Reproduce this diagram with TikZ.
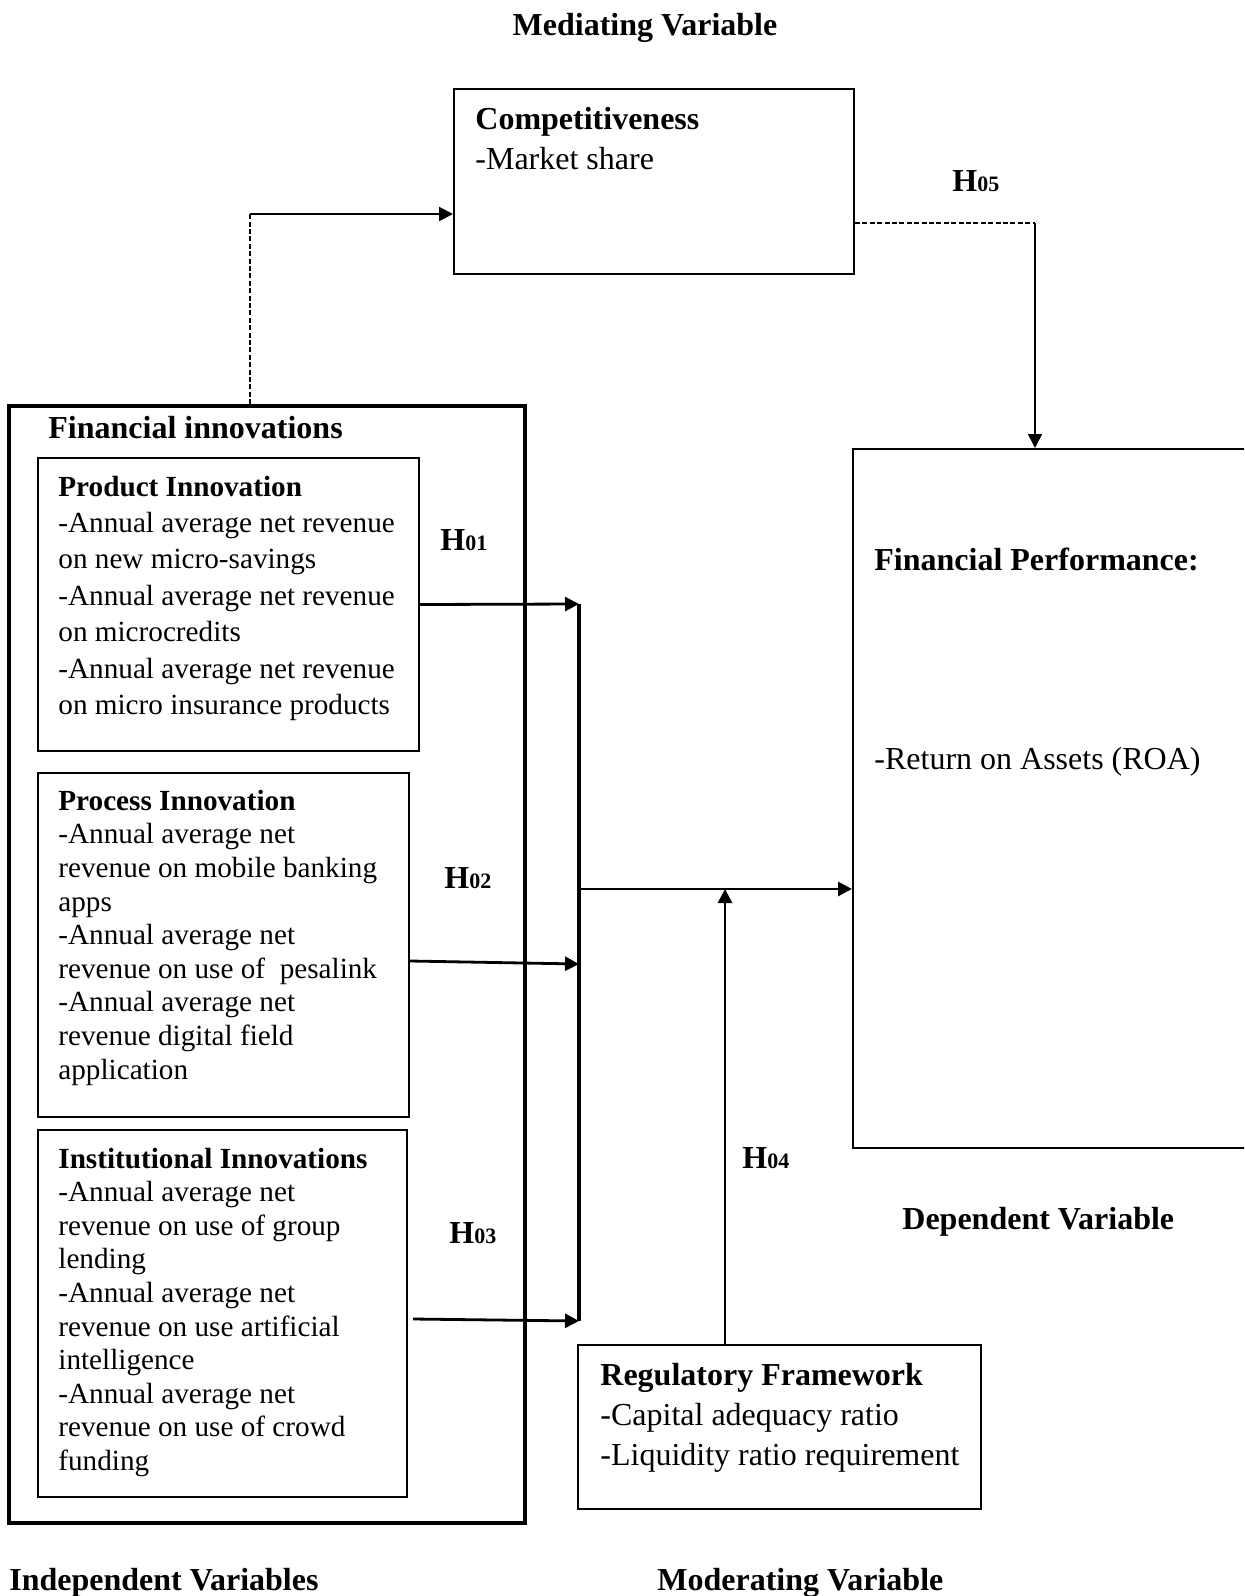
\documentclass[tikz,border=0pt]{standalone}
\usepackage{fontspec}
\setmainfont{Liberation Serif}
\usetikzlibrary{arrows.meta,fit}
\begin{document}
\begin{tikzpicture}[x=0.5pt,y=-0.5pt,
  box/.style={draw, line width=1pt, inner sep=0pt},
  big/.style={font=\fontsize{16}{19.9}\selectfont, inner sep=0pt, anchor=base west, align=left},
  small/.style={font=\fontsize{14.6}{18.2}\selectfont, inner sep=0pt, anchor=base west, align=left},
  tight/.style={font=\fontsize{14.6}{16.8}\selectfont, inner sep=0pt, anchor=base west, align=left},
  hl/.style={font=\fontsize{16}{19}\selectfont\bfseries, inner sep=0pt, anchor=base west},
  arr/.style={line width=1.4pt, -{Triangle[length=7pt,width=7pt]}},
  dsh/.style={line width=1pt, dash pattern=on 2.5pt off 1.2pt},
]
\clip (0,0) rectangle (1244,1596);
\newcommand{\hyp}[1]{H{\fontsize{11}{11}\selectfont\bfseries #1}}

% boxes
\node[box, fit={(454,89) (854,274)}] (comp) {};
\node[box, line width=1.8pt, fit={(9,406) (525,1523)}] (outer) {};
\node[box, fit={(38,458) (419,751)}] (prod) {};
\node[box, fit={(38,773) (409,1117)}] (proc) {};
\node[box, fit={(38,1130) (407,1497)}] (inst) {};
\node[box, fit={(853,449) (1270,1148)}] (fp) {};
\node[box, fit={(578,1345) (981,1509)}] (reg) {};

% texts (anchor = baseline of the last line)
\node[hl, anchor=base] (medlab) at (645,35) {Mediating Variable};
\node[big, font=\fontsize{16}{19.85}\selectfont] (comptext) at (475,169) {\textbf{Competitiveness}\\-Market share};
\node[hl] (h5) at (952,191) {\hyp{05}};
\node[hl] (filab) at (48,438) {Financial innovations};
\node[small] (prodtext) at (58,714.5) {\textbf{Product Innovation}\\-Annual average net revenue\\on new micro-savings\\-Annual average net revenue\\on microcredits\\-Annual average net revenue\\on micro insurance products};
\node[tight] (proctext) at (58,1079) {\textbf{Process Innovation}\\-Annual average net\\revenue on mobile banking\\apps\\-Annual average net\\revenue on use of \ pesalink\\-Annual average net\\revenue digital field\\application};
\node[tight] (insttext) at (58,1470.5) {\textbf{Institutional Innovations}\\-Annual average net\\revenue on use of group\\lending\\-Annual average net\\revenue on use artificial\\intelligence\\-Annual average net\\revenue on use of crowd\\funding};
\node[hl] (fptitle) at (874,570) {Financial Performance:};
\node[big] (fproa) at (874,769) {-Return on Assets (ROA)};
\node[big, font=\fontsize{16}{20.1}\selectfont] (regtext) at (600,1465.5) {\textbf{Regulatory Framework}\\-Capital adequacy ratio\\-Liquidity ratio requirement};
\node[hl] (h1) at (440,550) {\hyp{01}};
\node[hl] (h2) at (444,888) {\hyp{02}};
\node[hl] (h3) at (449,1243) {\hyp{03}};
\node[hl] (h4) at (742,1168) {\hyp{04}};
\node[hl] (deplab) at (902,1229) {Dependent Variable};
\node[hl] (indlab) at (9,1590) {Independent Variables};
\node[hl] (modlab) at (657,1590) {Moderating Variable};

% connectors
\coordinate (c1) at (250,214);
\draw[dsh] (c1 |- outer.north) -- (c1);
\draw[arr, line width=1pt] (c1) -- (c1 -| comp.west);
\coordinate (c2) at (1035,223);
\draw[dsh] (c2 -| comp.east) -- (c2);
\draw[arr, line width=0.8pt] (c2) -- (c2 |- fp.north);

\coordinate (bt) at (579,604);
\coordinate (bb) at (579,1321);
\draw[line width=1.6pt] (bt) -- (bb);
\draw[arr] (prod.east) -- (bt);
\coordinate (b2) at (579,964);
\draw[arr] ([yshift=-8pt]proc.east) -- (b2);
\coordinate (a3) at (413,1319);
\draw[arr] (a3) -- (bb);
\coordinate (j) at (579,889);
\draw[arr] (j) -- (j -| fp.west);
\coordinate (m) at (725,889);
\draw[arr] (m |- reg.north) -- (m);
\end{tikzpicture}
\end{document}
